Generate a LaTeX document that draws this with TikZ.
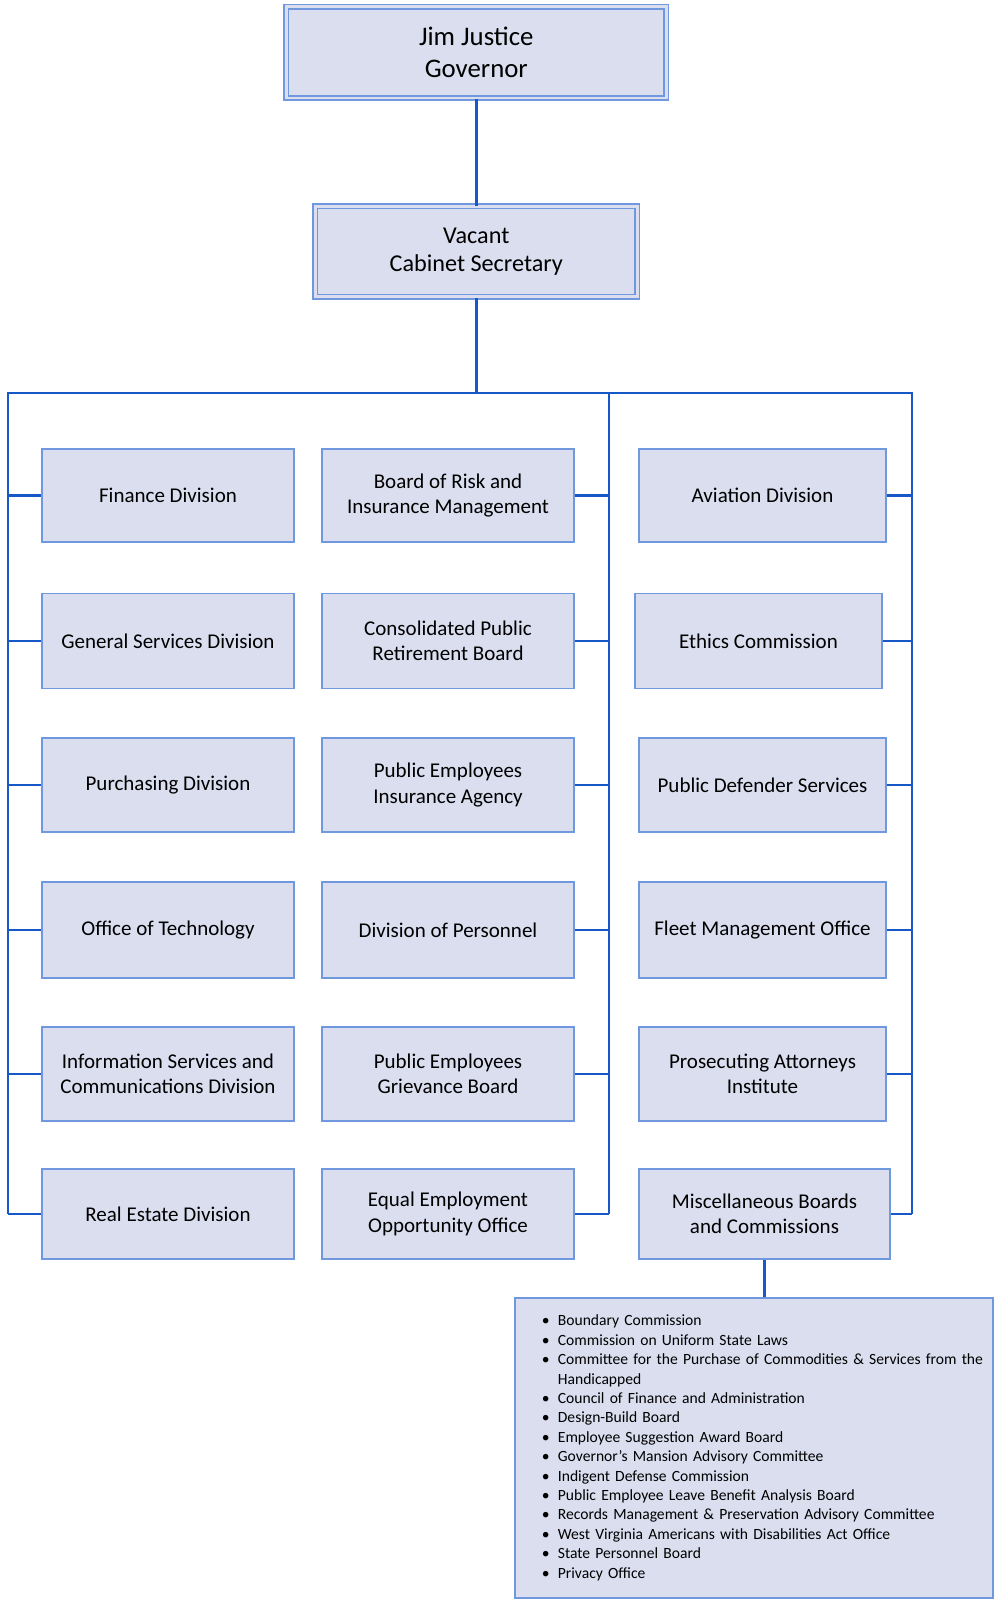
\documentclass[tikz,border=0pt]{standalone}
\usepackage{fontspec}
\setmainfont{Carlito}
\usetikzlibrary{shadows}
\definecolor{boxfill}{RGB}{218,222,239}
\definecolor{boxline}{RGB}{112,152,222}
\definecolor{conn}{RGB}{22,88,200}
\tikzset{
  unitbox/.style={draw=boxline, line width=1.8pt, fill=boxfill, align=center, inner sep=0pt,
    font=\fontsize{21}{25.5}\selectfont, text=black},
  headbox/.style={draw=boxline, line width=1.6pt, double=boxfill, double distance=2.6pt, fill=boxfill,
    align=center, inner sep=0pt, text=black,
    drop shadow={opacity=0.18, shadow xshift=1.5pt, shadow yshift=-1.5pt}},
  listbox/.style={draw=boxline, line width=1.8pt, fill=boxfill, align=left, inner sep=0pt,
    font=\fontsize{15.6}{19.4}\selectfont, text=black},
  wire/.style={draw=conn, line width=2.8pt},
  wide/.style={minimum width=252pt},
  rwide/.style={minimum width=247pt}
}
\newcommand{\bul}{\hspace*{27pt}\makebox[16pt][l]{\textbullet}}
\begin{document}
\begin{tikzpicture}[x=1pt,y=-1pt]
\useasboundingbox (0,0) rectangle (993,1600);
% heads
\node[headbox, minimum width=380pt, minimum height=91.3pt, font=\fontsize{26.8}{32.6}\selectfont] (gov) at (476.3,52.3) {Jim Justice\\Governor};
\node[headbox, minimum width=322pt, minimum height=90.4pt, font=\fontsize{24.2}{28.6}\selectfont] (cab) at (476.3,251.5) {Vacant\\Cabinet Secretary};
% column 1
\node[unitbox, wide, minimum height=93pt] (fin) at (168,495.5) {Finance Division};
\node[unitbox, wide, minimum height=95pt] (gsd) at (168,641) {General Services Division};
\node[unitbox, wide, minimum height=94pt] (pur) at (168,785) {Purchasing Division};
\node[unitbox, wide, minimum height=96pt] (oot) at (168,930) {Office of Technology};
\node[unitbox, wide, minimum height=94pt] (isc) at (168,1074) {Information Services and\\Communications Division};
\node[unitbox, wide, minimum height=90pt] (red) at (168,1214) {Real Estate Division};
% column 2
\node[unitbox, wide, minimum height=93pt] (brim) at (448,495.5) {Board of Risk and\\Insurance Management};
\node[unitbox, wide, minimum height=95pt] (cprb) at (448,641) {Consolidated Public\\Retirement Board};
\node[unitbox, wide, minimum height=94pt] (peia) at (448,785) {Public Employees\\Insurance Agency};
\node[unitbox, wide, minimum height=96pt] (dop) at (448,930) {Division of Personnel};
\node[unitbox, wide, minimum height=94pt] (pegb) at (448,1074) {Public Employees\\Grievance Board};
\node[unitbox, wide, minimum height=90pt] (eeo) at (448,1214) {Equal Employment\\Opportunity Office};
% column 3
\node[unitbox, rwide, minimum height=93pt] (avi) at (762.5,495.5) {Aviation Division};
\node[unitbox, rwide, minimum height=95pt] (eth) at (758.5,641) {Ethics Commission};
\node[unitbox, rwide, minimum height=94pt] (pds) at (762.5,785) {Public Defender Services};
\node[unitbox, rwide, minimum height=96pt] (fmo) at (762.5,930) {Fleet Management Office};
\node[unitbox, rwide, minimum height=94pt] (pai) at (762.5,1074) {Prosecuting Attorneys\\Institute};
\node[unitbox, minimum width=251pt, minimum height=90pt] (mbc) at (764.5,1214) {Miscellaneous Boards\\and Commissions};
% list
\node[listbox, anchor=north west, text width=478pt, minimum height=300pt] (lst) at (514,1297) {%
\bul Boundary Commission\\
\bul Commission on Uniform State Laws\\
\bul Committee for the Purchase of Commodities \& Services from the\\
\hspace*{43pt}Handicapped\\
\bul Council of Finance and Administration\\
\bul Design-Build Board\\
\bul Employee Suggestion Award Board\\
\bul Governor’s Mansion Advisory Committee\\
\bul Indigent Defense Commission\\
\bul Public Employee Leave Benefit Analysis Board\\
\bul Records Management \& Preservation Advisory Committee\\
\bul West Virginia Americans with Disabilities Act Office\\
\bul State Personnel Board\\
\bul Privacy Office};
% bus coordinates
\coordinate (busL) at (8,393);
\coordinate (busM) at (609,393);
\coordinate (busR) at (912,393);
\coordinate (endL) at (8,1214);
\coordinate (endM) at (609,1214);
\coordinate (endR) at (912,1214);
% connectors
\draw[wire] (gov.south) -- (cab.north);
\draw[wire] (cab.south) -- (cab.south |- busL);
\draw[wire, line cap=rect] (busL) -- (busR);
\draw[wire] (busL) -- (endL);
\draw[wire] (busM) -- (endM);
\draw[wire] (busR) -- (endR);
\foreach \n in {fin,gsd,pur,oot,isc,red}
  \draw[wire] (\n.west -| busL) -- (\n.west);
\foreach \n in {brim,cprb,peia,dop,pegb,eeo}
  \draw[wire] (\n.east) -- (\n.east -| busM);
\foreach \n in {avi,eth,pds,fmo,pai,mbc}
  \draw[wire] (\n.east) -- (\n.east -| busR);
\draw[wire] (mbc.south) -- (mbc.south |- lst.north);
\end{tikzpicture}
\end{document}
